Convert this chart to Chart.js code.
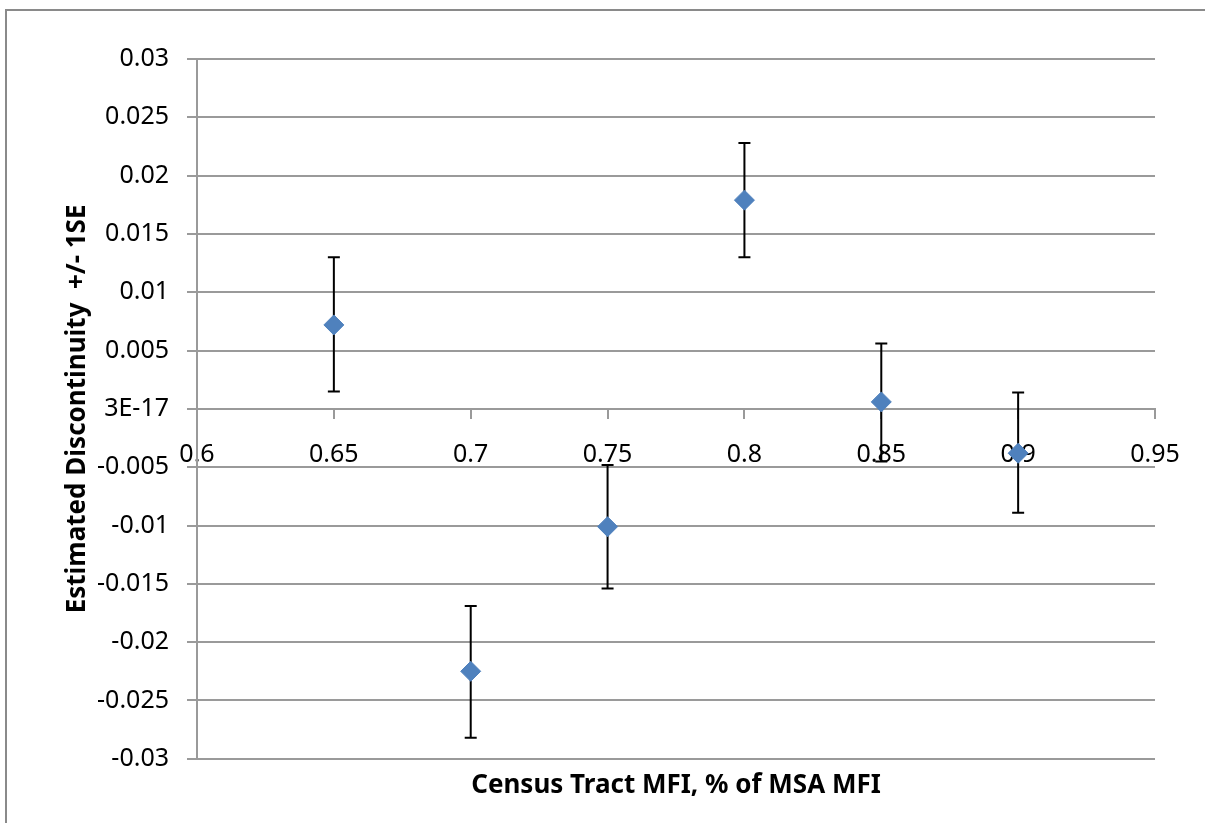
<!DOCTYPE html>
<html>
<head>
    <title>Estimated Discontinuity</title>
    <style>
        body {
            margin: 0;
            padding: 0;
            background-color: #fff;
            overflow: hidden;
        }

        /* chart border like the spreadsheet frame */
        #frame {
            position: absolute;
            left: 5px;
            top: 9px;
            width: 1240px;
            height: 860px;
            border: 2px solid #8a8a8a;
        }

        #chart-container {
            position: absolute;
            left: 0;
            top: 0;
            width: 1205px;
            height: 823px;
        }
    </style>
</head>
<body>
    <div id="frame"></div>
    <div id="chart-container">
        <canvas id="disc-chart" width="1205" height="823"></canvas>
    </div>

    <script src="https://cdn.jsdelivr.net/npm/chart.js"></script>
    <script>
        // Data
        const thresholds = [0.65, 0.7, 0.75, 0.8, 0.85, 0.9];
        const estimates = [0.0072, -0.0225, -0.0101, 0.0179, 0.0006, -0.0038];
        const upperSE = [0.0130, -0.0169, -0.0048, 0.0228, 0.0056, 0.0014];
        const lowerSE = [0.0015, -0.0282, -0.0154, 0.0130, -0.0045, -0.0089];

        const xTitle = 'Census Tract MFI, % of MSA MFI';
        const yTitle = 'Estimated Discontinuity  +/- 1SE';
        const zeroLabel = '3E-17';

        const fontFamily = '"Noto Sans", "Open Sans", sans-serif';
        const gridColor = '#9a9a9a';

        const points = thresholds.map((x, i) => ({ x: x, y: estimates[i] }));

        // Draw the +/- 1SE bars under the markers
        const errorBars = {
            id: 'errorBars',
            beforeDatasetsDraw(chart) {
                const ctx = chart.ctx;
                const xs = chart.scales.x;
                const ys = chart.scales.y;
                ctx.save();
                ctx.strokeStyle = '#000';
                ctx.lineWidth = 2;
                thresholds.forEach((x, i) => {
                    const px = xs.getPixelForValue(x);
                    const top = ys.getPixelForValue(upperSE[i]);
                    const bot = ys.getPixelForValue(lowerSE[i]);
                    ctx.beginPath();
                    ctx.moveTo(px, top);
                    ctx.lineTo(px, bot);
                    ctx.moveTo(px - 6, top);
                    ctx.lineTo(px + 6, top);
                    ctx.moveTo(px - 6, bot);
                    ctx.lineTo(px + 6, bot);
                    ctx.stroke();
                });
                ctx.restore();
            }
        };

        const ctx = document.getElementById('disc-chart').getContext('2d');
        const chart = new Chart(ctx, {
            type: 'scatter',
            data: {
                datasets: [{
                    label: 'Estimate',
                    data: points,
                    pointStyle: 'rectRot',
                    pointRadius: 10,
                    pointHoverRadius: 10,
                    backgroundColor: '#4f81bd',
                    borderColor: '#4f81bd',
                    borderWidth: 1
                }]
            },
            options: {
                responsive: false,
                animation: false,
                layout: {
                    padding: { left: 0, right: 50, top: 59, bottom: 0 }
                },
                plugins: {
                    legend: { display: false },
                    tooltip: { enabled: false }
                },
                scales: {
                    x: {
                        type: 'linear',
                        position: { y: 0 },
                        min: 0.6,
                        max: 0.95,
                        ticks: {
                            stepSize: 0.05,
                            color: '#000',
                            padding: 22,
                            font: { family: fontFamily, size: 25 },
                            callback: v => String(Math.round(v * 100) / 100)
                        },
                        grid: {
                            drawOnChartArea: false,
                            drawTicks: true,
                            tickLength: 9,
                            color: gridColor,
                            lineWidth: 2
                        },
                        border: { display: true, color: gridColor, width: 2 }
                    },
                    // empty bottom axis that only carries the x title
                    xTitleAxis: {
                        type: 'linear',
                        position: 'bottom',
                        ticks: { display: false },
                        grid: { display: false, drawTicks: false },
                        border: { display: false },
                        title: {
                            display: true,
                            text: xTitle,
                            color: '#000',
                            font: { family: fontFamily, size: 26, weight: 'bold' },
                            padding: { top: 11, bottom: 22 }
                        }
                    },
                    y: {
                        type: 'linear',
                        min: -0.03,
                        max: 0.03,
                        afterFit: scale => { scale.width = 197; },
                        ticks: {
                            stepSize: 0.005,
                            color: '#000',
                            padding: 18,
                            font: { family: fontFamily, size: 25 },
                            callback: v => Math.abs(v) < 1e-9 ? zeroLabel : String(Math.round(v * 1000) / 1000)
                        },
                        grid: {
                            color: gridColor,
                            lineWidth: 2,
                            tickLength: 10
                        },
                        border: { display: true, color: gridColor, width: 2 },
                        title: {
                            display: true,
                            text: yTitle,
                            color: '#000',
                            font: { family: fontFamily, size: 26, weight: 'bold' },
                            padding: { top: 62, bottom: 0 }
                        }
                    }
                }
            },
            plugins: [errorBars]
        });
    </script>
</body>
</html>
